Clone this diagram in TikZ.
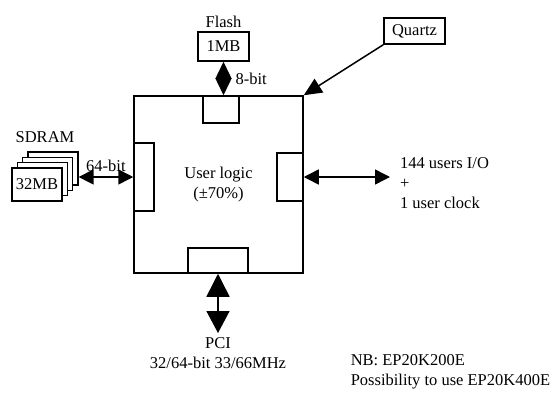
\documentclass[tikz,border=0pt]{standalone}
\usepackage{fontspec}
\setmainfont{Liberation Serif}
\usetikzlibrary{arrows.meta}

\begin{document}
\begin{tikzpicture}[x=1pt,y=-1pt,font=\fontsize{16.5}{20}\selectfont,line width=1.5pt,
  blk/.style={draw,fill=white,inner sep=0pt,align=center},
  port/.style={draw,inner sep=0pt},
  fat/.style={{Triangle[length=#1,width=16pt]}-{Triangle[length=#1,width=16pt]}}]
  \useasboundingbox (0,0) rectangle (559,394);
  % FPGA
  \node[blk,minimum width=169pt,minimum height=177pt] (fpga) at (218.5,184.5) {User logic\\(±70\%)};
  \node[port,minimum width=36pt,minimum height=27pt] (tport) at (221,109.5) {};
  \node[port,minimum width=20pt,minimum height=68pt] (lport) at (144,177) {};
  \node[port,minimum width=26pt,minimum height=48pt] (rport) at (290,177) {};
  \node[port,minimum width=60pt,minimum height=25pt] (bport) at (218,260.5) {};
  % flash
  \node[blk,minimum width=51pt,minimum height=29pt] (flash) at (223.5,46.5) {1MB};
  \node[anchor=south] at (flash.north) {Flash};
  \draw[fat=17pt] (flash.south) -- (flash.south |- fpga.north) node[midway,right=8pt] {8-bit};
  % quartz
  \node[blk,minimum width=61pt,minimum height=26pt] (quartz) at (414.5,31) {Quartz};
  \draw[-{Triangle[length=18pt,width=16pt]}] (quartz.south west) -- (fpga.north east);
  % SDRAM stack
  \foreach \i in {4,3,2,1} {
    \node[blk,minimum width=50pt,minimum height=33pt] (sd\i) at ({37+5.3*(\i-1)},{184.5-5.3*(\i-1)}) {};
  }
  \node at (sd1) {32MB};
  \node[anchor=south] at (45,147) {SDRAM};
  \draw[{Triangle[length=15pt,width=15pt]}-{Triangle[length=15pt,width=15pt]}] (sd4.east |- lport.west) -- (lport.west) node[midway,above=1pt] {64-bit};
  % user I/O
  \coordinate (io) at (390,177);
  \draw[{Triangle[length=15pt,width=15pt]}-{Triangle[length=15pt,width=15pt]}] (rport.east) -- (io);
  \node[anchor=west,align=left] at (396,183) {144 users I/O\\+\\1 user clock};
  % PCI
  \coordinate (pci) at (218,333);
  \draw[{Triangle[length=23pt,width=23pt]}-{Triangle[length=22pt,width=23pt]}] (bport.south) -- (pci);
  \node[anchor=north,align=center] at (pci) {PCI\\32/64-bit 33/66MHz};
  % note
  \node[anchor=north west,align=left,inner sep=0pt] at (350,354) {NB: EP20K200E\\Possibility to use EP20K400E};
\end{tikzpicture}
\end{document}
